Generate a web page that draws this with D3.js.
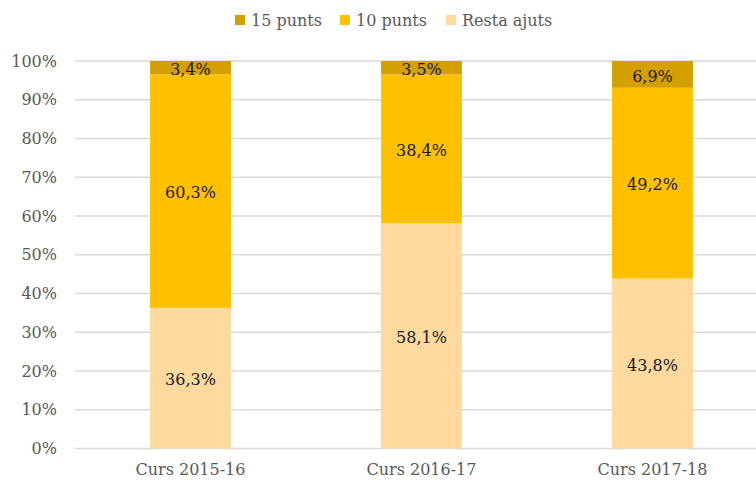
<!DOCTYPE html>
<html>
<head>
<meta charset="utf-8">
<script src="https://cdn.jsdelivr.net/npm/d3@7"></script>
<style>
  body { margin: 0; background: #fff; }
  svg text { font-family: "DejaVu Serif", "Liberation Serif", serif; }
</style>
</head>
<body>
<div id="graph" style="width:756px;height:483px"></div>
<script>
// chart data
const categories = ["Curs 2015-16", "Curs 2016-17", "Curs 2017-18"];
const series_names = ["Resta ajuts", "10 punts", "15 punts"];
const resta_ajuts = [36.3, 58.1, 43.8];
const punts_10 = [60.3, 38.4, 49.2];
const punts_15 = [3.4, 3.5, 6.9];
const y_ticks = [0, 0.1, 0.2, 0.3, 0.4, 0.5, 0.6, 0.7, 0.8, 0.9, 1];

const colors = {"Resta ajuts": "#FFD99E", "10 punts": "#FFC000", "15 punts": "#D4A000"};

const width = 756, height = 483;
const margin = {top: 61, right: -12, bottom: 34.5, left: 75};

// one row per category, built from the arrays above
const rows = categories.map((c, i) => ({
  cat: c,
  "Resta ajuts": resta_ajuts[i],
  "10 punts": punts_10[i],
  "15 punts": punts_15[i]
}));

const stacked = d3.stack()
  .keys(series_names)
  .offset(d3.stackOffsetExpand)(rows);

const svg = d3.select('#graph').append('svg')
  .attr('width', width)
  .attr('height', height);

const x = d3.scaleBand()
  .domain(categories)
  .range([margin.left, width - margin.right])
  .paddingInner(0.65)
  .paddingOuter(0.325);

const y = d3.scaleLinear()
  .domain([0, 1])
  .range([height - margin.bottom, margin.top]);

// gridlines
svg.append('g')
  .selectAll('line')
  .data(y_ticks)
  .join('line')
  .attr('x1', margin.left)
  .attr('x2', width)
  .attr('y1', d => y(d))
  .attr('y2', d => y(d))
  .attr('stroke', '#D9D9D9')
  .attr('stroke-width', 1.3);

// y axis labels
svg.append('g')
  .selectAll('text')
  .data(y_ticks)
  .join('text')
  .attr('x', 57)
  .attr('y', d => y(d))
  .attr('dy', '0.35em')
  .attr('text-anchor', 'end')
  .attr('font-size', 16)
  .attr('fill', '#595959')
  .text(d => Math.round(d * 100) + '%');

// bars
const layers = svg.append('g')
  .selectAll('g')
  .data(stacked)
  .join('g')
  .attr('fill', d => colors[d.key]);

layers.selectAll('rect')
  .data(d => d)
  .join('rect')
  .attr('x', d => x(d.data.cat))
  .attr('width', x.bandwidth())
  .attr('y', d => y(d[1]))
  .attr('height', d => y(d[0]) - y(d[1]));

// value labels
const label_g = svg.append('g');
stacked.forEach(layer => {
  layer.forEach(d => {
    label_g.append('text')
      .attr('x', x(d.data.cat) + x.bandwidth() / 2)
      .attr('y', (y(d[0]) + y(d[1])) / 2)
      .attr('dy', '0.45em')
      .attr('text-anchor', 'middle')
      .attr('font-size', 16)
      .attr('fill', '#1a1a1a')
      .text(d3.format('.1f')(d.data[layer.key]).replace('.', ',') + '%');
  });
});

// x axis labels
svg.append('g')
  .selectAll('text')
  .data(categories)
  .join('text')
  .attr('x', d => x(d) + x.bandwidth() / 2)
  .attr('y', 475)
  .attr('text-anchor', 'middle')
  .attr('font-size', 16)
  .attr('fill', '#595959')
  .text(d => d);

// legend
const legend_items = ["15 punts", "10 punts", "Resta ajuts"];
const legend_x = [235, 340, 446];
const legend = svg.append('g')
  .selectAll('g')
  .data(legend_items)
  .join('g')
  .attr('transform', (d, i) => `translate(${legend_x[i]}, 15)`);

legend.append('rect')
  .attr('width', 10)
  .attr('height', 10)
  .attr('fill', d => colors[d]);

legend.append('text')
  .attr('x', 16)
  .attr('y', 5)
  .attr('dy', '0.35em')
  .attr('font-size', 16)
  .attr('fill', '#595959')
  .text(d => d);
</script>
</body>
</html>
